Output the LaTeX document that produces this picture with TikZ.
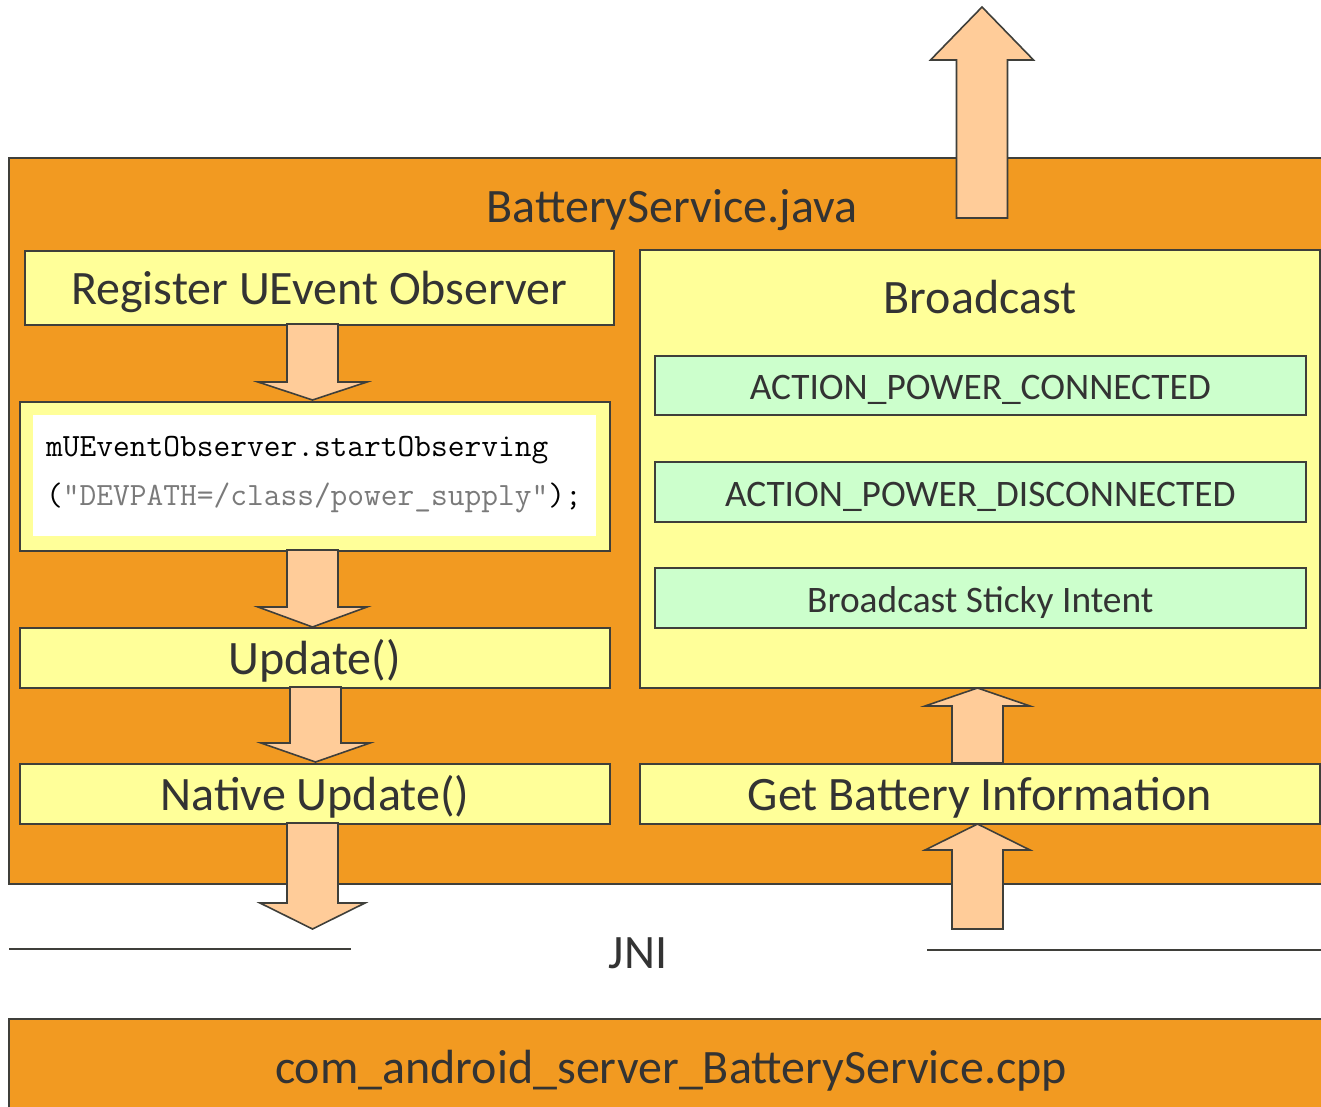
\documentclass[tikz,border=0pt]{standalone}
\usepackage{fontspec}
\setmainfont{Carlito}
\definecolor{layer}{HTML}{F29A21}
\definecolor{stepfill}{HTML}{FFFF99}
\definecolor{intentfill}{HTML}{CCFFCC}
\definecolor{flowfill}{HTML}{FFCC99}
\definecolor{edge}{HTML}{3F3F3A}
\definecolor{ink}{HTML}{333333}
\definecolor{codegray}{HTML}{7A7A7A}
% block arrows: #1 centre x, #2 shaft start y, #3 head base y, #4 tip y,
% #5 half shaft width, #6 half head width
\newcommand{\blockarrow}[6]{%
  \draw[flow] (#1-#5,#2) -- (#1-#5,#3) -- (#1-#6,#3) -- (#1,#4)
    -- (#1+#6,#3) -- (#1+#5,#3) -- (#1+#5,#2) -- cycle;}
\begin{document}
\begin{tikzpicture}[x=1pt,y=-1pt,
  frame/.style={draw=edge, line width=1.6pt},
  bigtext/.style={font=\fontsize{48}{56}\selectfont, text height=40pt, text depth=7pt},
  smalltext/.style={font=\fontsize{37.4}{44}\selectfont, text height=35pt, text depth=6pt},
  layerbox/.style={frame, fill=layer},
  stepbox/.style={frame, fill=stepfill, anchor=north west, inner sep=0pt,
    text=ink, bigtext},
  intentbox/.style={frame, fill=intentfill, anchor=north west, inner sep=0pt,
    text=ink, smalltext},
  flow/.style={frame, fill=flowfill, line join=miter},
  label/.style={text=ink, inner sep=0pt, bigtext},
  rule/.style={draw=edge, line width=1.8pt}]
\useasboundingbox (0,0) rectangle (1321,1107);
\clip (0,0) rectangle (1321,1107);

% Java layer
\filldraw[layerbox] (9,158) rectangle (1340,884);
\node[label] (java) at (672,206) {BatteryService.java};

% broadcast out of the service
\blockarrow{982}{218}{60}{7}{25.5}{51.5}

% left column
\node[stepbox, minimum width=589, minimum height=74] (reg) at (24,250) {Register UEvent Observer};
\node[stepbox, minimum width=590, minimum height=149] (obs) at (19,401) {};
\node[fill=white, anchor=north west, minimum width=563, minimum height=121, inner sep=0pt] (code) at (33,415) {};
\node[anchor=west, inner sep=0pt, font=\ttfamily\fontsize{32.5}{49}\selectfont, align=left]
  (codetext) at (46,475) {mUEventObserver.startObserving\\
  \color{black}(\color{codegray}"DEVPATH=/class/power\_supply"\color{black});};
\node[stepbox, minimum width=590, minimum height=60] (upd) at (19,627) {Update()};
\node[stepbox, minimum width=590, minimum height=60] (nat) at (19,763) {Native Update()};

% right column
\node[stepbox, minimum width=680, minimum height=438] (bc) at (639,249) {};
\node[label] (bctitle) at (980,297) {Broadcast};
\node[intentbox, minimum width=651, minimum height=59] (conn) at (654,355) {ACTION\_POWER\_CONNECTED};
\node[intentbox, minimum width=651, minimum height=60] (disc) at (654,461) {ACTION\_POWER\_DISCONNECTED};
\node[intentbox, minimum width=651, minimum height=60] (sticky) at (654,567) {Broadcast Sticky Intent};
\node[stepbox, minimum width=680, minimum height=60] (info) at (639,763) {Get Battery Information};

% flow between the steps
\blockarrow{312.5}{324}{382}{400}{25.5}{54.5}
\blockarrow{312.5}{550}{607}{627}{25.5}{54.5}
\blockarrow{315.5}{687}{743}{762}{25.5}{54.5}
\blockarrow{312.5}{823}{903}{929}{25.5}{52.5}
\blockarrow{977.5}{763}{706}{688}{25.5}{52.5}
\blockarrow{977.5}{929}{850}{824}{25.5}{52.5}

% JNI boundary
\coordinate (jl0) at (9,949);
\coordinate (jl1) at (351,949);
\coordinate (jr0) at (927,950);
\coordinate (jr1) at (1340,950);
\draw[rule] (jl0) -- (jl1);
\draw[rule] (jr0) -- (jr1);
\node[label] (jni) at (638,952) {JNI};

% native layer
\filldraw[layerbox] (9,1019) rectangle (1340,1130);
\node[label] (cpp) at (671,1067) {com\_android\_server\_BatteryService.cpp};
\end{tikzpicture}
\end{document}
